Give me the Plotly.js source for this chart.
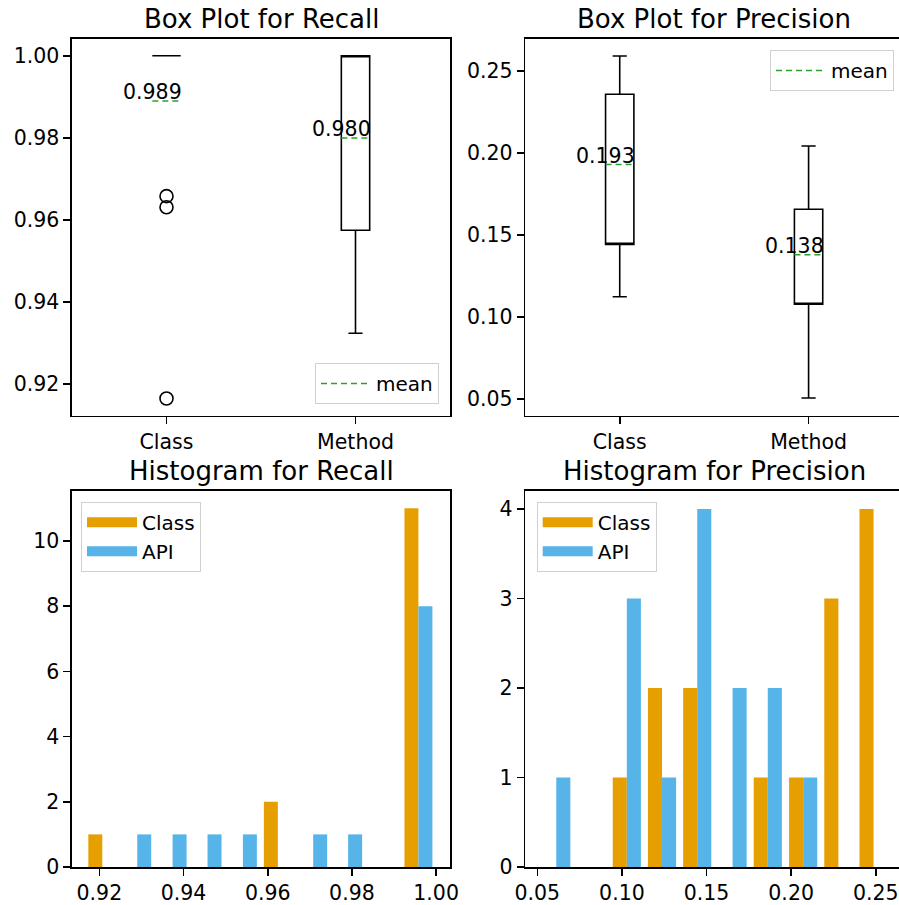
<!DOCTYPE html>
<html><head><meta charset="utf-8">
<script src="https://cdn.plot.ly/plotly-3.0.1.min.js"></script>
<style>html,body{margin:0;padding:0;overflow:hidden;background:#fff}#chart{width:920px;height:905px}</style>
</head><body><div id="chart"></div>
<script>
// ---------- data ----------
const boxCategories = ['Class', 'Method'];
const boxPositions = [1, 2];

// Recall box statistics
const recallQ1 = [1.0, 0.9575];
const recallMedian = [1.0, 1.0];
const recallQ3 = [1.0, 1.0];
const recallLowerWhisker = [1.0, 0.9324];
const recallUpperWhisker = [1.0, 1.0];
const recallMean = [0.989, 0.980];
const recallClassOutliers = [0.9658, 0.9631, 0.9165];

// Precision box statistics (median line is not drawn in the reference)
const precisionQ1 = [0.1444, 0.1079];
const precisionQ3 = [0.2358, 0.1658];
const precisionLowerWhisker = [0.1125, 0.0508];
const precisionUpperWhisker = [0.2591, 0.2043];
const precisionMean = [0.193, 0.138];

// Histograms
const histSeries = ['Class', 'API'];
const recallBinCenters = [0.9207, 0.9290, 0.9374, 0.9457, 0.9541, 0.9624, 0.9708, 0.9791, 0.9875, 0.9958];
const recallClassCounts = [1, 0, 0, 0, 0, 2, 0, 0, 0, 11];
const recallApiCounts = [0, 1, 1, 1, 1, 0, 1, 1, 0, 8];
const precisionBinCenters = [0.0612, 0.0820, 0.1029, 0.1237, 0.1445, 0.1654, 0.1862, 0.2071, 0.2279, 0.2487];
const precisionClassCounts = [0, 0, 1, 2, 2, 0, 1, 1, 3, 4];
const precisionApiCounts = [1, 0, 3, 1, 4, 2, 2, 1, 0, 0];

// ---------- style ----------
const W = 920, H = 905;
const FONT = 'DejaVu Sans, Arial, sans-serif';
const colClass = '#E69F00', colApi = '#56B4E9', colMean = '#2ca02c';
const boxWidth = 0.15;
const TICK = 20.5, TITLE = 26;

function meanLine(means) {
  const xs = [], ys = [];
  boxPositions.forEach((p, i) => { xs.push(p - boxWidth / 2, p + boxWidth / 2, null); ys.push(means[i], means[i], null); });
  return { xs, ys };
}

const traces = [];
// Box for recall
traces.push({
  type: 'box', x: boxPositions, q1: recallQ1, median: recallMedian, q3: recallQ3,
  lowerfence: recallLowerWhisker, upperfence: recallUpperWhisker,
  width: boxWidth, whiskerwidth: 0.5, boxpoints: false,
  line: { color: 'black', width: 1.6 }, fillcolor: 'rgba(0,0,0,0)',
  showlegend: false, hoverinfo: 'skip', xaxis: 'x', yaxis: 'y'
});
traces.push({
  type: 'scatter', mode: 'markers', x: recallClassOutliers.map(() => boxPositions[0]), y: recallClassOutliers,
  marker: { symbol: 'circle-open', size: 13, color: 'black', line: { width: 1.6 } },
  showlegend: false, xaxis: 'x', yaxis: 'y'
});
const ml1 = meanLine(recallMean);
traces.push({
  type: 'scatter', mode: 'lines', x: ml1.xs, y: ml1.ys, name: 'mean',
  line: { color: colMean, width: 1.5, dash: '6px,4px' }, legend: 'legend', xaxis: 'x', yaxis: 'y'
});
// Box for precision
traces.push({
  type: 'box', x: boxPositions, q1: precisionQ1, median: precisionQ1, q3: precisionQ3,
  lowerfence: precisionLowerWhisker, upperfence: precisionUpperWhisker,
  width: boxWidth, whiskerwidth: 0.5, boxpoints: false,
  line: { color: 'black', width: 1.6 }, fillcolor: 'rgba(0,0,0,0)',
  showlegend: false, hoverinfo: 'skip', xaxis: 'x2', yaxis: 'y2'
});
const ml2 = meanLine(precisionMean);
traces.push({
  type: 'scatter', mode: 'lines', x: ml2.xs, y: ml2.ys, name: 'mean',
  line: { color: colMean, width: 1.5, dash: '6px,4px' }, legend: 'legend2', xaxis: 'x2', yaxis: 'y2'
});
// Histograms
function hist(xa, ya, centers, classCounts, apiCounts, leg) {
  [[classCounts, colClass, histSeries[0]], [apiCounts, colApi, histSeries[1]]].forEach(([c, col, nm]) => {
    traces.push({ type: 'bar', x: centers, y: c, marker: { color: col, line: { width: 0 } }, name: nm,
      showlegend: false, xaxis: xa, yaxis: ya });
  });
  [[colClass, histSeries[0]], [colApi, histSeries[1]]].forEach(([col, nm]) => {
    traces.push({ type: 'scatter', mode: 'lines', x: [null], y: [null], name: nm,
      line: { color: col, width: 15 }, legend: leg, xaxis: xa, yaxis: ya });
  });
}
hist('x3', 'y3', recallBinCenters, recallClassCounts, recallApiCounts, 'legend3');
hist('x4', 'y4', precisionBinCenters, precisionClassCounts, precisionApiCounts, 'legend4');

// ---------- layout ----------
const axBase = {
  showline: true, mirror: true, linecolor: 'black', linewidth: 1.6,
  ticks: 'outside', ticklen: 7, tickwidth: 1.6, tickcolor: 'black',
  showgrid: false, zeroline: false, fixedrange: true,
  tickfont: { family: FONT, size: TICK, color: 'black' }
};
const xL = [72 / W, 450 / W], xR = [525.3 / W, 903 / W];
const yT = [1 - 415.7 / H, 1 - 39 / H], yB = [1 - 867 / H, 1 - 490.7 / H];

const legBase = {
  bgcolor: 'rgba(255,255,255,0.8)', bordercolor: '#d0d0d0', borderwidth: 1,
  font: { family: FONT, size: 20, color: 'black' }, itemwidth: 50,
  xref: 'paper', yref: 'paper'
};

function title(text, xd, yd) {
  return { text, xref: 'paper', yref: 'paper', x: (xd[0] + xd[1]) / 2, y: yd[1], xanchor: 'center', yanchor: 'bottom',
    yshift: 3, showarrow: false, font: { family: FONT, size: TITLE, color: 'black' } };
}
const annotations = [
  title('Box Plot for Recall', xL, yT), title('Box Plot for Precision', xR, yT),
  title('Histogram for Recall', xL, yB), title('Histogram for Precision', xR, yB)
];
[[recallMean, 'x', 'y'], [precisionMean, 'x2', 'y2']].forEach(([means, xr, yr]) => {
  means.forEach((m, i) => annotations.push({
    text: m.toFixed(3), x: boxPositions[i] - boxWidth / 2, y: m, xref: xr, yref: yr,
    xanchor: 'center', yanchor: 'bottom', yshift: -5, showarrow: false,
    font: { family: FONT, size: TICK, color: 'black' }
  }));
});

const layout = {
  width: W, height: H, margin: { l: 0, r: 0, t: 0, b: 0 },
  paper_bgcolor: 'white', plot_bgcolor: 'white',
  font: { family: FONT, size: 20, color: 'black' },
  barmode: 'group', bargap: 0.2, bargroupgap: 0,
  xaxis: Object.assign({}, axBase, { domain: xL, anchor: 'y', range: [0.5, 2.5], tickvals: boxPositions, ticktext: boxCategories }),
  yaxis: Object.assign({}, axBase, { domain: yT, anchor: 'x', range: [0.9123, 1.0041], tick0: 0.92, dtick: 0.02, tickformat: '.2f' }),
  xaxis2: Object.assign({}, axBase, { domain: xR, anchor: 'y2', range: [0.5, 2.5], tickvals: boxPositions, ticktext: boxCategories }),
  yaxis2: Object.assign({}, axBase, { domain: yT, anchor: 'x2', range: [0.0400, 0.2695], tick0: 0.05, dtick: 0.05, tickformat: '.2f' }),
  xaxis3: Object.assign({}, axBase, { domain: xL, anchor: 'y3', range: [0.9135, 1.0033], tick0: 0.92, dtick: 0.02, tickformat: '.2f' }),
  yaxis3: Object.assign({}, axBase, { domain: yB, anchor: 'x3', range: [0, 11.54], tick0: 0, dtick: 2 }),
  xaxis4: Object.assign({}, axBase, { domain: xR, anchor: 'y4', range: [0.0429, 0.2661], tick0: 0.05, dtick: 0.05, tickformat: '.2f' }),
  yaxis4: Object.assign({}, axBase, { domain: yB, anchor: 'x4', range: [0, 4.204], tick0: 0, dtick: 1 }),
  legend: Object.assign({}, legBase, { x: 439 / W, xanchor: 'right', y: 1 - 404 / H, yanchor: 'bottom' }),
  legend2: Object.assign({}, legBase, { x: 894 / W, xanchor: 'right', y: 1 - 50 / H, yanchor: 'top' }),
  legend3: Object.assign({}, legBase, { x: 81 / W, xanchor: 'left', y: 1 - 501.7 / H, yanchor: 'top' }),
  legend4: Object.assign({}, legBase, { x: 536.7 / W, xanchor: 'left', y: 1 - 501.7 / H, yanchor: 'top' }),
  annotations,
  showlegend: true
};

Plotly.newPlot('chart', traces, layout, { displayModeBar: false, staticPlot: true });
</script>
</body></html>
